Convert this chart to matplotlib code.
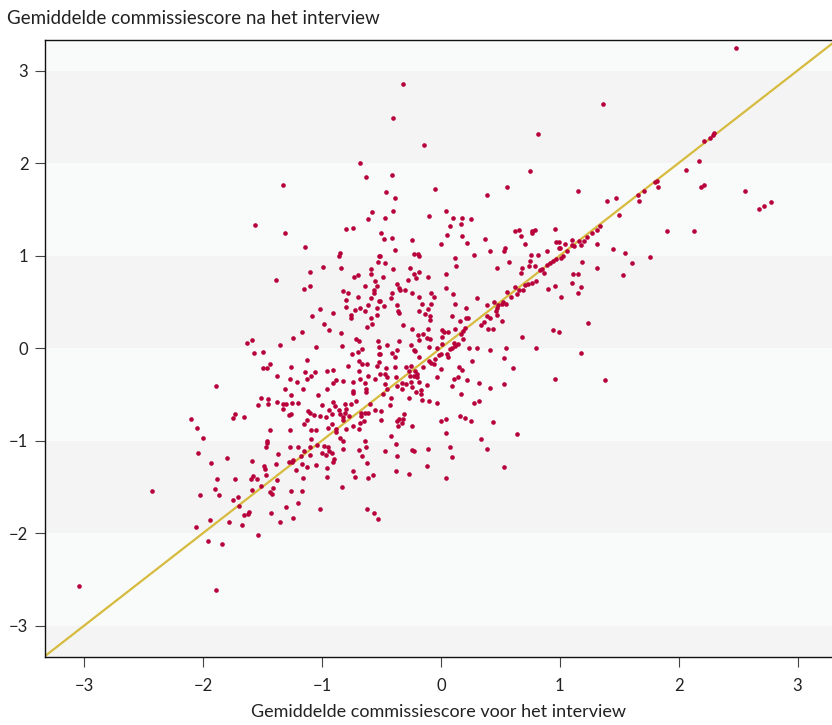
import matplotlib
matplotlib.use("Agg")
import matplotlib.pyplot as plt

# (score voor, score na) per kandidaat
punten = [
    (2.48, 3.24), (1.36, 2.64), (2.21, 2.24), (2.26, 2.27), (2.29, 2.30), (2.30, 2.32), (2.17, 2.02),
    (2.06, 1.92), (2.19, 1.74), (2.21, 1.76), (2.56, 1.70), (2.68, 1.50), (2.72, 1.54), (2.78, 1.58),
    (1.15, 1.70), (1.80, 1.79), (1.82, 1.81), (1.83, 1.74), (1.71, 1.70), (1.66, 1.65), (1.67, 1.59),
    (1.40, 1.59), (1.47, 1.62), (1.50, 1.44), (1.34, 1.32), (1.31, 1.28), (1.27, 1.24), (1.23, 1.20),
    (1.20, 1.16), (1.16, 1.16), (1.10, 1.17), (1.10, 1.11), (1.12, 1.10), (1.18, 1.11), (1.04, 1.12),
    (1.00, 1.08), (1.06, 1.05), (1.03, 0.99), (1.01, 0.97), (1.31, 1.13), (1.45, 1.07), (1.55, 1.03),
    (1.90, 1.26), (2.13, 1.26), (1.76, 0.98), (1.61, 0.92), (1.19, 0.93), (1.31, 0.86), (1.15, 0.80),
    (1.53, 0.79),
    (-0.32, 2.85), (-0.40, 2.49), (-0.14, 2.20), (0.82, 2.31), (-0.41, 1.87), (0.75, 1.91), (-0.46, 1.69),
    (-0.39, 1.62), (-0.05, 1.72), (0.56, 1.74), (0.39, 1.65), (-0.40, 1.48), (-0.47, 1.41), (-0.10, 1.43),
    (0.04, 1.48), (0.10, 1.41), (0.18, 1.41), (0.25, 1.39), (0.17, 1.34), (0.08, 1.32), (-0.50, 1.24),
    (-0.48, 1.18), (-0.41, 1.19), (0.05, 1.22), (0.18, 1.21), (-0.24, 1.17), (0.00, 1.13), (0.22, 1.14),
    (0.37, 1.18), (0.62, 1.26), (0.66, 1.28), (0.67, 1.21), (0.77, 1.27), (0.79, 1.28), (0.77, 1.24),
    (0.71, 1.12), (0.96, 1.29), (0.97, 1.15), (0.99, 1.15), (-0.39, 1.06), (-0.23, 1.02), (-0.19, 1.02),
    (-0.18, 0.99), (0.28, 1.01), (0.41, 1.05), (0.53, 1.05), (0.54, 1.08), (0.76, 1.01), (0.82, 1.01),
    (0.89, 1.05), (0.99, 1.08), (-0.51, 0.99), (0.12, 0.97),
    (-0.68, 2.00), (-0.63, 1.85), (-1.33, 1.76), (-0.58, 1.47), (-0.61, 1.39), (-1.56, 1.33), (-0.80, 1.29),
    (-0.74, 1.30), (-1.31, 1.24), (-1.14, 1.09), (-0.85, 1.03), (-0.86, 1.00), (-0.52, 0.99), (-0.53, 0.93),
    (-0.99, 0.88), (-0.84, 0.86), (-1.10, 0.82), (-0.59, 0.85), (-0.59, 0.80), (-1.39, 0.74), (-0.73, 0.77),
    (-0.70, 0.79), (-0.55, 0.72), (-0.54, 0.67), (-0.64, 0.67), (-1.15, 0.64), (-1.10, 0.67), (-0.56, 0.63),
    (-0.56, 0.59), (-0.82, 0.62), (-0.78, 0.59), (-0.70, 0.55), (-0.59, 0.54), (-0.80, 0.52), (-0.52, 0.51),
    (-0.61, 0.46), (-0.80, 0.44), (-0.68, 0.43), (-0.72, 0.41), (-0.64, 0.40), (-1.02, 0.42), (-0.54, 0.43),
    (-0.54, 0.36), (-0.91, 0.38), (-1.08, 0.35), (-0.76, 0.36), (-0.76, 0.33), (-0.59, 0.32), (-0.98, 0.26),
    (-0.58, 0.26), (-0.62, 0.23), (-0.94, 0.19), (-1.17, 0.17), (-0.84, 0.16), (-1.24, 0.11), (-0.71, 0.10),
    (-0.69, 0.08), (-0.53, 0.08), (-1.59, 0.09), (-1.63, 0.05), (-1.35, 0.03), (-1.05, 0.01), (-0.83, 0.02),
    (-0.66, -0.01), (-1.57, -0.05), (-1.50, -0.04), (-0.70, -0.04), (-0.75, -0.06), (-1.13, -0.13),
    (-0.52, 0.01), (-0.52, -0.06),
    (-0.47, 0.92), (0.13, 0.89), (-0.40, 0.85), (-0.26, 0.87), (-0.23, 0.80), (-0.21, 0.76), (-0.18, 0.82),
    (-0.11, 0.77), (0.04, 0.80), (-0.49, 0.77), (0.47, 0.87), (0.57, 0.93), (0.68, 0.87), (0.74, 0.89),
    (0.75, 0.94), (0.79, 0.89), (0.83, 0.84), (0.85, 0.85), (0.87, 0.81), (0.89, 0.90), (0.92, 0.92),
    (0.94, 0.94), (0.97, 0.96), (1.11, 0.80), (1.10, 0.70), (1.15, 0.60), (1.01, 0.55), (0.96, 0.67),
    (0.90, 0.64), (0.80, 0.73), (0.77, 0.70), (0.73, 0.69), (0.71, 0.68), (0.67, 0.81), (0.69, 0.63),
    (0.66, 0.63), (0.64, 0.58), (0.62, 0.66), (0.56, 0.61), (0.59, 0.55), (0.52, 0.50), (0.55, 0.48),
    (0.51, 0.48), (0.48, 0.46), (0.47, 0.43), (0.46, 0.40), (0.45, 0.50), (0.39, 0.46), (0.39, 0.35),
    (0.41, 0.33), (0.47, 0.36), (0.36, 0.28), (0.34, 0.25), (0.40, 0.21), (0.44, 0.21), (0.51, 0.29),
    (0.30, 0.54), (0.21, 0.43), (0.21, 0.32), (0.23, 0.32), (0.16, 0.29), (0.12, 0.48), (0.10, 0.58),
    (0.04, 0.65), (0.09, 0.35), (0.20, 0.22), (0.19, 0.18), (0.17, 0.15), (0.19, 0.10), (0.12, 0.21),
    (0.01, 0.19), (0.03, 0.17), (0.06, 0.17), (0.01, 0.12), (0.14, 0.04), (0.11, 0.05), (0.12, 0.02),
    (0.09, 0.00), (0.08, -0.01), (0.24, 0.00), (0.30, 0.00), (0.41, -0.02), (0.55, 0.00), (0.68, 0.12),
    (0.80, 0.00), (0.94, 0.20), (0.99, 0.17), (0.53, -0.11), (0.61, -0.22), (0.96, -0.33), (0.53, -0.39),
    (0.41, -0.43), (0.32, -0.38), (0.26, -0.14), (0.18, -0.24), (0.15, -0.20), (0.22, -0.35), (0.11, -0.33),
    (0.14, -0.31), (0.09, -0.41), (0.17, -0.50), (0.28, -0.59), (0.32, -0.57), (0.06, -0.10), (0.05, -0.06),
    (0.00, -0.06), (-0.02, -0.08), (-0.05, -0.12), (-0.06, -0.17), (-0.08, -0.16), (0.01, 0.04),
    (-0.03, 0.00), (-0.10, 0.01), (-0.09, 0.10), (-0.12, 0.11), (-0.15, 0.15), (-0.19, 0.14), (-0.18, 0.09),
    (-0.11, 0.21), (-0.24, 0.21), (-0.32, 0.25), (-0.35, 0.08), (-0.45, 0.03), (-0.37, -0.02), (-0.41, -0.05),
    (-0.39, -0.10), (-0.51, -0.06), (-0.25, 0.03), (-0.23, -0.02), (-0.22, -0.03), (-0.18, -0.10),
    (-0.15, -0.21), (-0.10, -0.14), (-0.25, -0.19), (-0.29, -0.20), (-0.26, -0.30), (-0.22, -0.25),
    (-0.23, -0.30), (-0.20, -0.31), (-0.20, -0.28), (-0.27, -0.25), (-0.39, -0.20), (-0.46, -0.22),
    (-0.47, -0.28), (-0.38, -0.31), (-0.45, -0.31), (-0.51, -0.28), (-0.37, -0.41), (-0.33, -0.38),
    (-0.29, -0.39), (-0.25, -0.37), (-0.24, -0.42), (-0.18, -0.37), (-0.12, -0.40), (-0.17, -0.45),
    (-0.21, -0.47), (-0.17, -0.50), (-0.16, -0.56), (-0.33, -0.44), (-0.47, -0.39), (-0.45, -0.44),
    (-0.49, -0.50), (-0.42, -0.54), (-0.43, -0.62), (-0.27, -0.54), (-0.10, -0.57), (-0.03, -0.59),
    (0.00, -0.23), (-0.03, -0.31), (-0.50, -0.68), (-0.50, -0.78), (-0.31, -0.71), (-0.35, -0.77),
    (-0.37, -0.79), (-0.32, -0.77), (-0.33, -0.81), (-0.36, -0.84), (-0.24, -0.84), (0.00, -0.79),
    (0.04, -0.77), (0.16, -0.74), (0.20, -0.76), (0.25, -0.79), (0.44, -0.80), (0.04, -0.92), (0.64, -0.93),
    (-0.42, -0.95), (0.34, -0.98),
    (-0.37, 0.69), (-0.35, 0.65), (-0.34, 0.63), (-0.30, 0.63), (-0.28, 0.74), (-0.41, 0.59), (-0.42, 0.54),
    (-0.37, 0.47), (-0.24, 0.59), (-0.18, 0.55), (-0.16, 0.48), (-0.18, 0.40), (-0.11, 0.42), (-0.08, 0.60),
    (-0.06, 0.55), (-0.08, 0.48), (-0.13, 0.37), (-0.09, 0.35), (-0.09, 0.30), (-0.36, 0.40), (-0.35, 0.38),
    (-0.51, 0.51), (-0.48, 0.45),
    (1.18, 0.66), (1.24, 0.27), (1.18, -0.05), (1.38, -0.35),
    (-0.52, -0.15), (-0.54, -0.19), (-1.44, -0.17), (-1.50, -0.22), (-1.46, -0.22), (-1.26, -0.21),
    (-1.14, -0.26), (-1.06, -0.26), (-1.09, -0.30), (-0.96, -0.25), (-0.91, -0.24), (-0.78, -0.19),
    (-0.69, -0.14), (-0.66, -0.17), (-0.62, -0.17), (-0.69, -0.25), (-0.61, -0.30), (-0.55, -0.33),
    (-1.38, -0.30), (-1.27, -0.34), (-1.13, -0.34), (-1.21, -0.37), (-1.89, -0.41), (-1.31, -0.44),
    (-1.16, -0.44), (-0.96, -0.44), (-0.91, -0.38), (-0.88, -0.35), (-0.82, -0.36), (-0.74, -0.37),
    (-0.68, -0.34), (-0.64, -0.38), (-0.63, -0.44), (-0.63, -0.47), (-0.74, -0.46), (-0.74, -0.49),
    (-1.03, -0.51), (-1.26, -0.51), (-1.51, -0.54), (-1.45, -0.55), (-1.45, -0.61), (-1.54, -0.62),
    (-1.38, -0.58), (-1.33, -0.61), (-1.30, -0.61), (-1.25, -0.59), (-1.20, -0.59), (-1.33, -0.66),
    (-1.28, -0.72), (-1.26, -0.71), (-1.12, -0.68), (-1.10, -0.70), (-1.07, -0.72), (-1.13, -0.78),
    (-1.02, -0.73), (-1.00, -0.62), (-0.97, -0.75), (-0.92, -0.71), (-0.94, -0.67), (-0.91, -0.58),
    (-0.89, -0.63), (-0.86, -0.67), (-0.85, -0.71), (-0.81, -0.60), (-0.80, -0.66), (-0.81, -0.70),
    (-0.82, -0.75), (-0.82, -0.78), (-0.76, -0.60), (-0.77, -0.74), (-0.71, -0.57), (-0.67, -0.70),
    (-0.67, -0.74), (-0.64, -0.70), (-0.61, -0.70), (-0.65, -0.79), (-0.68, -0.81), (-0.55, -0.67),
    (-0.60, -0.60), (-1.09, -0.89), (-1.05, -0.89), (-0.95, -0.86), (-0.88, -0.87), (-0.88, -0.91),
    (-0.92, -0.82), (-0.85, -0.97), (-0.80, -0.88), (-0.74, -0.84), (-0.69, -0.88), (-0.64, -1.01),
    (-0.63, -1.07), (-0.69, -1.10), (-0.66, -1.17), (-0.62, -1.24), (-1.44, -0.89), (-1.46, -1.01),
    (-1.46, -1.03), (-1.47, -1.07), (-1.80, -1.19), (-2.04, -1.14), (-2.00, -0.97), (-2.05, -0.86),
    (-2.10, -0.77), (-1.75, -0.76), (-1.73, -0.71), (-1.66, -0.75), (-1.27, -1.07), (-1.37, -1.15),
    (-1.59, -1.22), (-1.93, -1.24), (-1.28, -1.23), (-1.25, -1.23), (-1.24, -1.21), (-1.22, -1.32),
    (-1.18, -1.17), (-1.15, -1.11), (-1.17, -1.25), (-1.13, -1.29), (-1.10, -1.16), (-1.05, -1.26),
    (-1.16, -1.40), (-1.49, -1.28), (-1.48, -1.31), (-1.47, -1.37), (-1.39, -1.25), (-1.58, -1.38),
    (-1.60, -1.42), (-1.55, -1.42), (-1.51, -1.49), (-1.59, -1.53), (-1.41, -1.51), (-1.44, -1.56),
    (-1.42, -1.58), (-1.38, -1.43), (-1.88, -1.42), (-1.90, -1.52), (-1.87, -1.59), (-2.03, -1.59),
    (-1.73, -1.42), (-1.71, -1.61), (-1.75, -1.64), (-1.70, -1.71), (-1.66, -1.80), (-1.62, -1.79),
    (-1.61, -1.77), (-1.67, -1.91), (-1.94, -1.86), (-2.06, -1.94), (-1.78, -1.88), (-1.54, -2.02),
    (-1.43, -1.78), (-1.35, -1.88), (-1.30, -1.72), (-1.24, -1.84), (-1.20, -1.68), (-1.26, -1.55),
    (-1.17, -1.55), (-1.02, -1.74), (-0.96, -1.30), (-0.96, -1.39), (-0.83, -1.50), (-0.90, -1.20),
    (-0.91, -1.23), (-0.94, -1.11), (-0.92, -1.13), (-0.98, -1.06), (-0.95, -1.07), (-0.97, -1.16),
    (-1.00, -1.14), (-0.82, -1.01), (-0.82, -1.09), (-0.74, -1.33), (-0.72, -1.39), (-0.61, -1.40),
    (-0.57, -1.37), (-0.62, -1.74), (-0.56, -1.78), (-0.53, -1.85), (-0.47, -1.11), (-1.09, -0.98),
    (-1.04, -1.05), (-1.10, -1.07), (-1.20, -1.07), (-1.15, -0.82), (-1.27, -0.89),
    (-0.38, -1.04), (-0.37, -1.17), (-0.24, -1.10), (-0.23, -1.11), (-0.11, -1.09), (0.08, -1.07),
    (0.09, -1.18), (-0.12, -1.27), (-0.38, -1.33), (-0.27, -1.36), (0.04, -1.40), (0.39, -1.09),
    (0.53, -1.29),
    (-2.43, -1.55), (-1.96, -2.09), (-1.84, -2.12), (-3.04, -2.57), (-1.89, -2.62),
]
voor = [p[0] for p in punten]
na = [p[1] for p in punten]

ticks = [-3, -2, -1, 0, 1, 2, 3]
tick_labels = ["\u22123", "\u22122", "\u22121", "0", "1", "2", "3"]
xmin, xmax = -3.33, 3.29
ymin, ymax = -3.34, 3.33

plt.rcParams["font.family"] = ["Lato", "DejaVu Sans"]

fig = plt.figure(figsize=(8.32, 7.25), dpi=100)
ax = fig.add_axes([45 / 832, 68 / 725, 787 / 832, 617 / 725])

# horizontale banden
for lo in range(-4, 4):
    kleur = "#f4f4f4" if lo % 2 == 0 else "#f9fafa"
    ax.axhspan(lo, lo + 1, color=kleur, lw=0, zorder=0)

ax.plot([xmin - 1, xmax + 1], [xmin - 1, xmax + 1], color="#d6bb3e", lw=1.6, zorder=2)
ax.scatter(voor, na, s=11, color="#b8003a", linewidths=0, zorder=3)

ax.set_xlim(xmin, xmax)
ax.set_ylim(ymin, ymax)
ax.set_xticks(ticks)
ax.set_xticklabels(tick_labels)
ax.set_yticks(ticks)
ax.set_yticklabels(tick_labels)
ax.tick_params(axis="both", length=7, width=0.8, color="#444444", labelsize=12, labelcolor="#222222")
ax.tick_params(axis="x", pad=8)
ax.tick_params(axis="y", pad=5)

for s in ["left", "bottom", "top"]:
    ax.spines[s].set_color("#111111")
    ax.spines[s].set_linewidth(1.0)
ax.spines["right"].set_visible(False)

ax.set_xlabel("Gemiddelde commissiescore voor het interview", fontsize=13, color="#222222", labelpad=7)
fig.text(7 / 832, 1 - 18 / 725, "Gemiddelde commissiescore na het interview",
         fontsize=13.5, color="#222222", ha="left", va="center")

fig.savefig("out.png", dpi=100)
